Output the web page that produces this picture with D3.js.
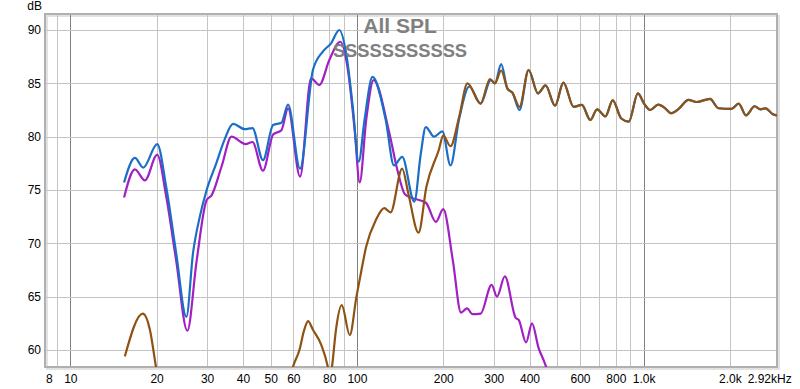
<!DOCTYPE html>
<html><head><meta charset="utf-8">
<script src="https://cdn.jsdelivr.net/npm/d3@7/dist/d3.min.js"></script>
<style>html,body{margin:0;padding:0;background:#fff;}svg{display:block;font-family:"Liberation Sans",Arial,sans-serif;}</style>
</head><body>
<svg id="c" width="800" height="389"></svg>
<script>
// ---- data ----
const titleText = "All SPL";
const subtitleText = "SSSSSSSSSSS";
const yTicks = [60, 65, 70, 75, 80, 85, 90];
const xGrid = [9, 10, 20, 30, 40, 50, 60, 70, 80, 90, 100, 200, 300, 400, 500, 600, 700, 800, 900, 1000, 2000];
const xDecades = [10, 100, 1000];
const xTickValues = [8.16, 10, 20, 30, 40, 50, 60, 80, 100, 200, 300, 400, 600, 800, 1000, 2000];
const xTickLabels = ["8", "10", "20", "30", "40", "50", "60", "80", "100", "200", "300", "400", "600", "800", "1.0k", "2.0k"];
const xEndLabel = "2.92k";
const freqDomain = [8.16, 2920];
const dbDomain = [58.4, 91.5];

const blueData = [
  [15.4, 75.7], [16.8, 78.0], [17.96, 77.1], [20.1, 79.3], [21.6, 75.3], [23.4, 69.1], [25.4, 63.1],
  [26.8, 69.1], [28.3, 72.5], [29.9, 75.0], [32.3, 77.5], [34.5, 79.7], [36.96, 81.2], [40.6, 80.7],
  [43.2, 80.8], [47.0, 77.8], [51.0, 81.1], [54.5, 81.3], [57.5, 83.0], [63.3, 77.0], [70.2, 86.25],
  [76.0, 87.97], [81.2, 88.75], [86.8, 90.0], [91.7, 87.8], [96.7, 82.8], [101.4, 77.65], [106.3, 81.6],
  [113.3, 85.6], [126.0, 81.56], [134.6, 77.3], [143.8, 78.1], [158.5, 73.9], [167, 78.4], [173.8, 80.9],
  [185.8, 80.0], [198.6, 80.5], [212, 77.3], [227, 81.6], [246.6, 84.7], [270, 83.1], [293, 85.3],
  [303, 85.0], [318.5, 86.8], [335, 84.5], [349, 84.1], [369, 82.5], [397, 86.25], [428, 84.06],
  [455, 84.8], [491, 82.9], [525, 85.06], [570, 82.8], [609, 82.97], [652, 81.56], [688, 82.56],
  [736, 81.9], [780, 83.4], [836, 81.7], [888, 81.4], [955, 84.06], [1004, 83.1], [1055, 82.5],
  [1125, 83.0], [1190, 82.66], [1245, 82.2], [1325, 82.6], [1434, 83.45], [1532, 83.25], [1705, 83.55],
  [1823, 82.66], [2025, 82.6], [2147, 83.1], [2275, 82.0], [2441, 82.85], [2558, 82.56], [2662, 82.66],
  [2825, 82.1], [2920, 82.0]
];
const purpleData = [
  [15.4, 74.3], [16.8, 76.94], [18.2, 75.9], [20.1, 78.3], [21.6, 74.4], [23.4, 68.4], [25.6, 61.8],
  [27.6, 68.4], [29.9, 74.06], [31.1, 74.5], [33.7, 77.2], [36.5, 80.0], [40.9, 79.3], [43.2, 79.5],
  [47.0, 76.8], [51.0, 80.2], [54.5, 80.6], [57.5, 82.66], [63.3, 76.25], [69.2, 85.47], [73.9, 84.84],
  [80.1, 87.19], [87.5, 88.9], [93, 86.25], [98.2, 80.6], [102.2, 75.7], [107.7, 81.56], [114.3, 85.3],
  [129.8, 80.3], [138.3, 76.9], [147, 74.6], [154, 74.3], [174, 73.8], [188.5, 72.0], [200, 73.2],
  [216, 68.4], [230.7, 63.5], [242, 63.9], [253, 63.35], [270, 63.4], [295, 66.1], [308, 65.0],
  [328, 66.9], [358, 63.0], [367, 62.8], [389, 60.7], [408, 62.5], [430, 60.2], [450, 58.9], [470, 57.5]
];
const brownData = [
  [15.5, 59.4], [17.9, 63.4], [18.95, 61.9], [19.9, 58.4], [20.6, 56.0], [57, 56.0], [59.8, 58.4],
  [63.0, 60.0], [65.5, 61.9], [67.5, 62.7], [70.2, 61.9], [75.0, 60.5], [79.0, 58.5], [80.5, 57.3],
  [81.9, 58.5], [84.5, 61.9], [88.5, 64.2], [94.4, 61.4], [99.6, 65.0], [103.7, 67.5], [107.7, 69.7],
  [116.5, 72.2], [124.5, 73.3], [131, 72.9], [143.8, 77.0], [151, 74.7], [164, 71.0], [174.7, 75.3],
  [193, 78.75], [200, 80.1], [212, 79.1], [227, 81.8], [243, 85.0], [270, 83.1], [291, 85.4],
  [303, 85.0], [318.5, 86.2], [335, 84.5], [349, 84.1], [369, 82.8], [397, 86.25], [428, 84.06],
  [455, 84.8], [491, 82.9], [525, 85.06], [570, 82.8], [609, 82.97], [652, 81.56], [688, 82.56],
  [736, 81.9], [780, 83.4], [836, 81.7], [888, 81.4], [955, 84.06], [1004, 83.1], [1055, 82.5],
  [1125, 83.0], [1190, 82.66], [1245, 82.2], [1325, 82.6], [1434, 83.45], [1532, 83.25], [1705, 83.55],
  [1823, 82.66], [2025, 82.6], [2147, 83.1], [2275, 82.0], [2441, 82.85], [2558, 82.56], [2662, 82.66],
  [2825, 82.1], [2920, 82.0]
];

// ---- layout ----
const L = 45, R = 777, T = 14, B = 367;
const svg = d3.select("#c");
const x = d3.scaleLog().domain(freqDomain).range([L, R]);
const y = d3.scaleLinear().domain(dbDomain).range([B, T]);

svg.append("defs").append("clipPath").attr("id", "clip")
  .append("rect").attr("x", L).attr("y", T).attr("width", R - L).attr("height", B - T);

// frame shadow
svg.append("rect").attr("x", L + 2).attr("y", T + 2).attr("width", R - L).attr("height", B - T)
  .attr("fill", "none").attr("stroke", "#e2e2e2").attr("stroke-width", 2);

// grid
const g = svg.append("g");
g.selectAll("line.v").data(xGrid).join("line")
  .attr("x1", d => Math.round(x(d)) + 0.5).attr("x2", d => Math.round(x(d)) + 0.5)
  .attr("y1", T).attr("y2", B)
  .attr("stroke", d => xDecades.includes(d) ? "#808080" : "#c4c4c4").attr("stroke-width", 1);
g.selectAll("line.h").data(yTicks).join("line")
  .attr("x1", L).attr("x2", R)
  .attr("y1", d => Math.round(y(d)) + 0.5).attr("y2", d => Math.round(y(d)) + 0.5)
  .attr("stroke", "#c4c4c4").attr("stroke-width", 1);

// frame
svg.append("rect").attr("x", L).attr("y", T).attr("width", R - L).attr("height", B - T)
  .attr("fill", "none").attr("stroke", "#b0b0b0").attr("stroke-width", 2);

// axes
const xAxis = d3.axisBottom(x).tickValues(xTickValues)
  .tickFormat((d, i) => xTickLabels[i]).tickSize(0).tickPadding(0);
const xa = svg.append("g").attr("transform", `translate(0,${B})`).call(xAxis);
xa.select(".domain").remove();
xa.selectAll("text").attr("y", 12).attr("dy", "0.32em").attr("fill", "#000").attr("font-size", 12)
  .attr("font-family", '"Liberation Sans",Arial,sans-serif');
xa.selectAll("text").filter((d, i) => i === 0).attr("text-anchor", "start").attr("dx", 0.5);
const kW = svg.append("text").attr("font-size", 12).text(xEndLabel);
const kWid = kW.node().getComputedTextLength(); kW.remove();
const endT = svg.append("text").attr("x", x(freqDomain[1]) - kWid).attr("y", B + 16)
  .attr("font-size", 12).attr("text-anchor", "start").text(xEndLabel);
endT.append("tspan").text("Hz");

const yAxis = d3.axisLeft(y).tickValues(yTicks).tickSize(0).tickPadding(4);
const ya = svg.append("g").attr("transform", `translate(${L},0)`).call(yAxis);
ya.select(".domain").remove();
ya.selectAll("text").attr("fill", "#000").attr("font-size", 12)
  .attr("font-family", '"Liberation Sans",Arial,sans-serif');
svg.append("text").attr("x", 42).attr("y", 10).attr("text-anchor", "end").attr("font-size", 12).text("dB");

// lines
const line = d3.line().x(d => x(d[0])).y(d => y(d[1])).curve(d3.curveMonotoneX);
const lines = svg.append("g").attr("clip-path", "url(#clip)");
[[purpleData, "#a21fc4"], [blueData, "#1a6ec6"], [brownData, "#8e5214"]].forEach(([data, col]) => {
  lines.append("path").datum(data).attr("d", line).attr("fill", "none")
    .attr("stroke", col).attr("stroke-width", 2.2).attr("stroke-linejoin", "round");
});

// titles
svg.append("text").attr("x", 400).attr("y", 33).attr("text-anchor", "middle")
  .attr("font-size", 21).attr("font-weight", "bold").attr("fill", "#808080").text(titleText);
svg.append("text").attr("x", 400).attr("y", 57).attr("text-anchor", "middle")
  .attr("font-size", 18.3).attr("font-weight", "bold").attr("fill", "#808080").text(subtitleText);
</script>
</body></html>
